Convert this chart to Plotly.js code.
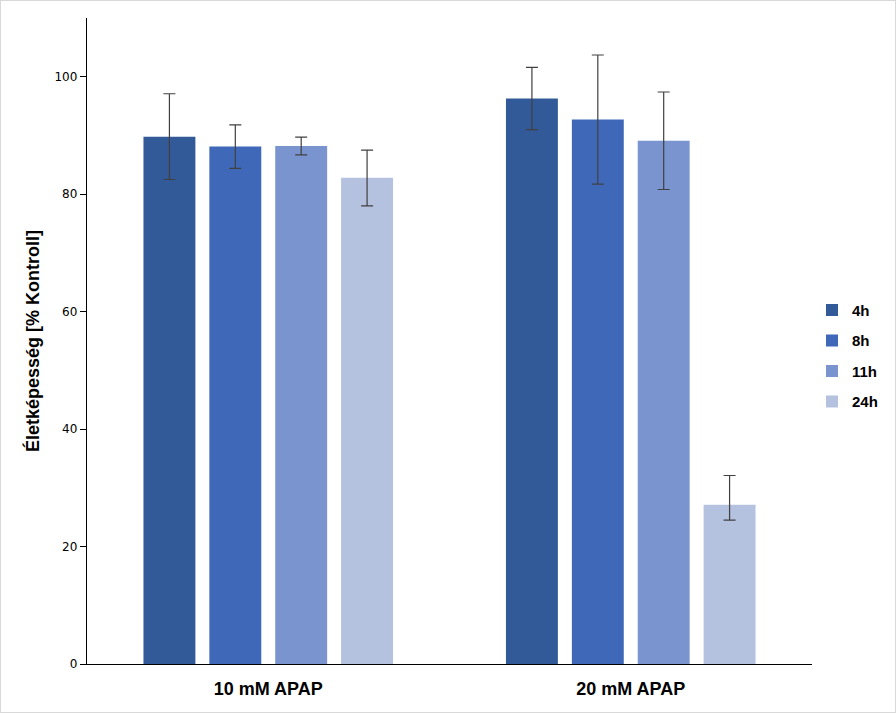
<!DOCTYPE html>
<html><head><meta charset="utf-8">
<script src="https://cdn.plot.ly/plotly-3.0.1.min.js"></script>
<style>
html,body{margin:0;padding:0;background:#fff;}
#wrap{width:894px;height:711px;border:1px solid #d9d9d9;}
#chart{width:894px;height:711px;}
</style></head><body>
<div id="wrap"><div id="chart"></div></div>
<script>
const categories = ["10 mM APAP", "20 mM APAP"];
const seriesNames = ["4h", "8h", "11h", "24h"];
const values = {
  "4h":  [89.8, 96.3],
  "8h":  [88.1, 92.7],
  "11h": [88.2, 89.1],
  "24h": [82.8, 27.1]
};
const errPlus = {
  "4h":  [7.3, 5.3],
  "8h":  [3.7, 11.0],
  "11h": [1.5, 8.3],
  "24h": [4.7, 5.0]
};
const errMinus = {
  "4h":  [7.3, 5.3],
  "8h":  [3.7, 11.0],
  "11h": [1.5, 8.3],
  "24h": [4.8, 2.6]
};
const colors = ["#335A98", "#3F69B8", "#7A94CF", "#B4C1DF"];

const traces = seriesNames.map((s, i) => ({
  type: "bar",
  name: s,
  legendgroup: "g" + i,
  x: categories,
  y: values[s],
  marker: {color: colors[i]},
  error_y: {type: "data", symmetric: false, array: errPlus[s], arrayminus: errMinus[s],
            color: "#404040", thickness: 1.2, width: 6}
}));

const layout = {
  width: 894, height: 711,
  margin: {l: 86, r: 83, t: 17, b: 48, autoexpand: false},
  paper_bgcolor: "#fff", plot_bgcolor: "#fff",
  barmode: "group",
  bargap: 0.273,
  bargroupgap: 0.212,
  showlegend: true,
  legend: {x: 1.0, xanchor: "left", y: 0.477, yanchor: "middle",
           font: {family: "Liberation Sans Narrow, Arial Narrow, sans-serif", size: 15, color: "#000", weight: "bold"},
           tracegroupgap: 8, itemwidth: 30, itemsizing: "constant"},
  xaxis: {
    type: "category",
    showline: true, linecolor: "#000", linewidth: 1.3,
    ticks: "", showgrid: false, zeroline: false,
    tickfont: {family: "Liberation Sans Narrow, Arial Narrow, sans-serif", size: 18, color: "#000", weight: "bold"},
    ticklabelstandoff: 8
  },
  yaxis: {
    range: [0, 110], dtick: 20, tick0: 0,
    showline: true, linecolor: "#000", linewidth: 1.3,
    ticks: "outside", ticklen: 6, tickcolor: "#000", tickwidth: 1,
    showgrid: false, zeroline: false,
    tickfont: {family: "DejaVu Sans, Verdana, sans-serif", size: 12, color: "#000"},
    title: {text: "Életképesség [% Kontroll]", standoff: 10,
            font: {family: "Liberation Sans Narrow, Arial Narrow, sans-serif", size: 18, color: "#000", weight: "bold"}}
  }
};

Plotly.newPlot("chart", traces, layout, {displayModeBar: false, staticPlot: true});
</script>
</body></html>
